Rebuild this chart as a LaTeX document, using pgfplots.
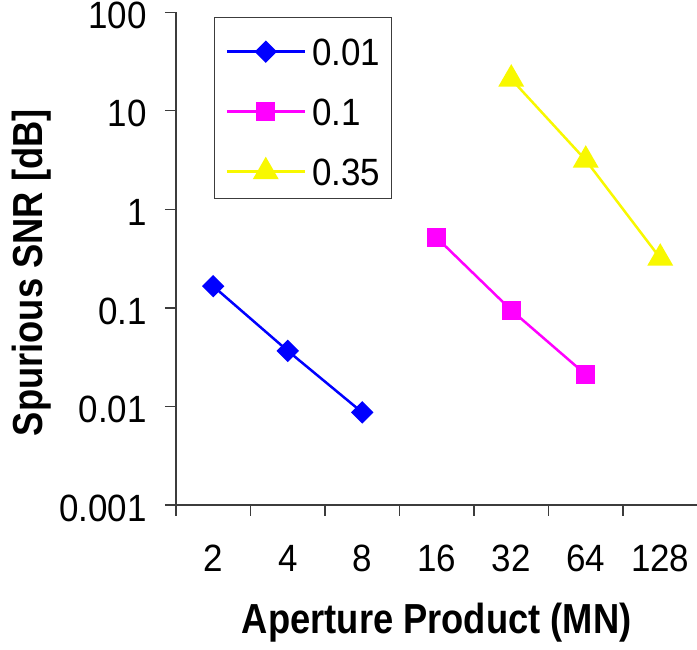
\documentclass[border=0pt]{standalone}
\usepackage{pgfplots}
\pgfplotsset{compat=1.18}
\usepackage{fontspec}
\setmainfont{Liberation Sans}[FakeStretch=0.865]
\newfontfamily\tickfamily{Liberation Sans}[FakeStretch=0.92]

\definecolor{serA}{RGB}{0,0,255}
\definecolor{serB}{RGB}{255,0,255}
\definecolor{serC}{RGB}{248,248,0}
\definecolor{axisgray}{RGB}{60,60,60}

\newcommand{\tickfs}{\tickfamily\fontsize{38}{40}\selectfont}
\newcommand{\titlefs}{\bfseries\fontsize{42}{46}\selectfont}
\newcommand{\legtext}[1]{\rule{0pt}{36pt}#1}

\begin{document}
\begin{tikzpicture}
\useasboundingbox (-176pt,-144pt) rectangle (521pt,505pt);
\begin{axis}[
  at={(0pt,0pt)}, anchor=south west,
  scale only axis, width=521.5pt, height=492.7pt,
  clip=false,
  xmin=-0.5, xmax=6.5,
  ymode=log, ymin=0.001, ymax=100,
  axis x line=bottom, axis y line=left,
  axis line style={-, line width=1.3pt, color=axisgray},
  tick style={line width=1.3pt, color=axisgray},
  tick align=outside, major tick length=11pt,
  xtick={-0.5,0.5,...,6.5},
  x tick label as interval,
  xticklabels={2,4,8,16,32,64,128},
  ytick={0.001,0.01,0.1,1,10,100},
  yticklabels={0.001,0.01,0.1,1,10,100},
  yminorticks=false,
  /pgf/number format/assume math mode=true,
  xticklabel style={font=\tickfs, inner sep=0pt, anchor=north, yshift=-29pt},
  yticklabel style={font=\tickfs, inner sep=0pt, anchor=east, xshift=-18pt, yshift=-3pt},
  xlabel={Aperture Product (MN)},
  ylabel={Spurious SNR [dB]},
  xlabel style={font=\titlefs, inner sep=0pt, at={(axis description cs:0.5,0)}, anchor=base, yshift=-128pt},
  ylabel style={font=\titlefs, inner sep=0pt, at={(axis description cs:0,0.5)}, anchor=base, yshift=133pt, xshift=-14pt},
  legend style={at={(0.0729,0.990)}, anchor=north west,
    draw=axisgray, line width=1pt, font=\tickfs,
    inner xsep=11pt, inner ysep=11.5pt,
    row sep=22.5pt,
    nodes={inner sep=0pt, anchor=base west},
    /tikz/every odd column/.append style={column sep=6pt}},
  legend cell align=left,
  legend image code/.code={
    \draw[mark repeat=2, mark phase=2, #1] plot coordinates {(0pt,13.5pt) (39pt,13.5pt) (78pt,13.5pt)};
  },
]
\addplot[serA, line width=2.5pt, mark=square*, mark size=6.7pt,
  mark options={solid, rotate=45, fill=serA}]
  coordinates {(0,0.166) (1,0.0367) (2,0.0087)};
\addlegendentry{\legtext{0.01}}
\addplot[serB, line width=2.5pt, mark=square*, mark size=8.3pt,
  mark options={solid, fill=serB}]
  coordinates {(3,0.515) (4,0.095) (5,0.0211)};
\addlegendentry{\legtext{0.1}}
\addplot[serC, line width=2.5pt, mark=triangle*, mark size=12.5pt,
  mark options={solid, fill=serC}]
  coordinates {(4,21) (5,3.16) (6,0.32)};
\addlegendentry{\legtext{0.35}}
\end{axis}
\end{tikzpicture}
\end{document}
